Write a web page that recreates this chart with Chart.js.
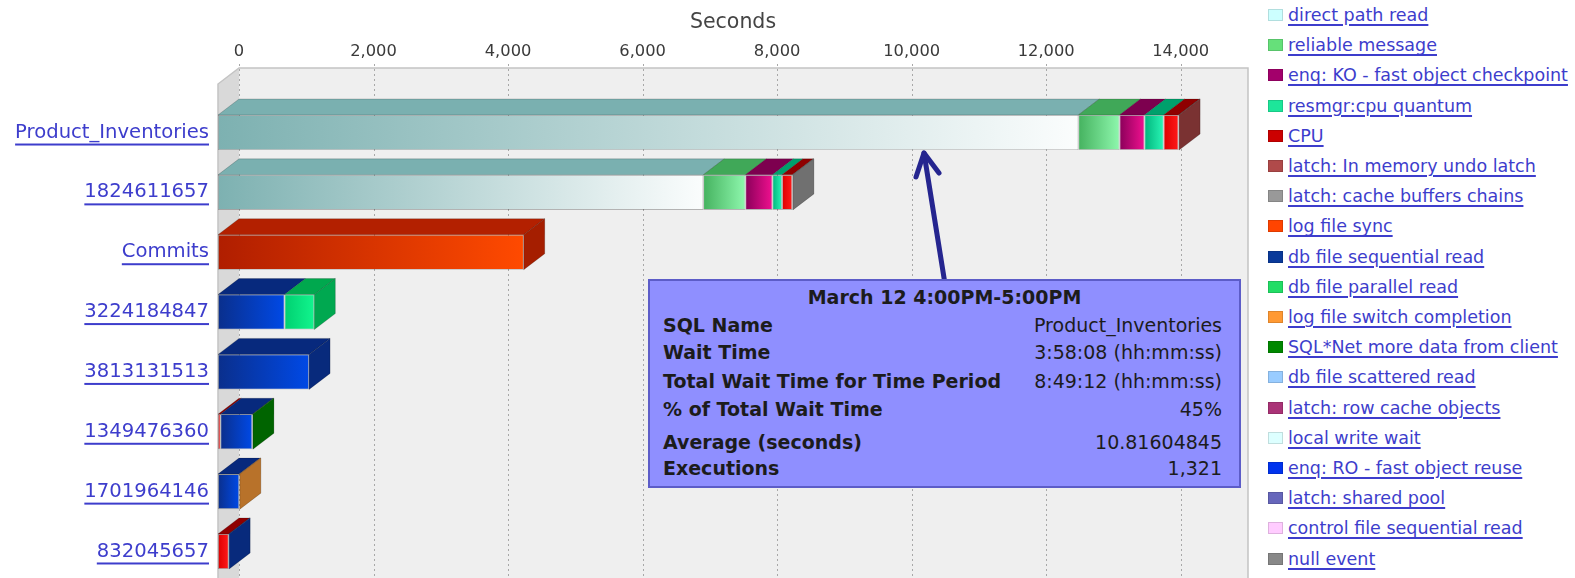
<!DOCTYPE html>
<html lang="en">
<head>
<meta charset="UTF-8">
<title>Top SQL by Wait Event</title>
<style>
    body {
        margin: 0;
        background: #fff;
        overflow: hidden;
        font-family: 'DejaVu Sans', sans-serif;
    }

    #wrap { position: relative; width: 1575px; height: 578px; }
    #chart { position: absolute; left: 0; top: 0; }

    #legend { position: absolute; left: 1268px; top: 0; }
    .item {
        position: absolute;
        left: 0;
        height: 22px;
        display: flex;
        align-items: center;
        white-space: nowrap;
        font-size: 17.5px;
    }
    .item span {
        display: inline-block;
        width: 15px;
        height: 12px;
        margin-right: 5px;
        box-shadow: inset 0 0 0 1px rgba(0, 0, 0, 0.13);
    }
    .item a {
        color: #3d3dcc;
        text-decoration: underline;
        text-decoration-thickness: 2px;
        text-underline-offset: 3px;
    }

    #tip {
        position: absolute;
        left: 648px;
        top: 279px;
        width: 589px;
        height: 205px;
        background: #8f8fff;
        border: 2px solid #5c5cc8;
        font-size: 19px;
        color: #1c1c1c;
    }
    #tip .ttl {
        position: absolute; left: 0; right: 0; top: 5px;
        height: 22px; line-height: 22px;
        text-align: center; font-weight: bold;
    }
    #tip .row {
        position: absolute; left: 13px; right: 17px;
        height: 22px; line-height: 22px;
        display: flex; justify-content: space-between;
    }
    #tip .row b { font-weight: bold; }
</style>
</head>
<body>
<div id="wrap">
    <canvas id="chart" width="1260" height="578"></canvas>
    <div id="legend"></div>
    <div id="tip"></div>
</div>

<script src="https://cdn.jsdelivr.net/npm/chart.js"></script>
<script>
    // SQL statements (one bar each)
    const sqlNames = ['Product_Inventories', '1824611657', 'Commits', '3224184847',
        '3813131513', '1349476360', '1701964146', '832045657'];

    // wait events, in legend / stacking order
    const waitEvents = ['direct path read', 'reliable message', 'enq: KO - fast object checkpoint',
        'resmgr:cpu quantum', 'CPU', 'latch: In memory undo latch', 'latch: cache buffers chains',
        'log file sync', 'db file sequential read', 'db file parallel read', 'log file switch completion',
        'SQL*Net more data from client', 'db file scattered read', 'latch: row cache objects',
        'local write wait', 'enq: RO - fast object reuse', 'latch: shared pool',
        'control file sequential read', 'null event'];

    // seconds waited per event, one value per SQL
    const directPathRead   = [12790, 7214, 0, 0, 0, 0, 0, 0];
    const reliableMessage  = [612, 626, 0, 0, 0, 0, 0, 0];
    const enqKO            = [371, 402, 0, 0, 0, 0, 0, 0];
    const resmgrCpu        = [285, 143, 0, 0, 0, 0, 0, 0];
    const cpu              = [220, 152, 0, 0, 0, 36, 0, 158];
    const latchUndo        = [10, 0, 0, 0, 0, 0, 0, 0];
    const latchCacheBuf    = [0, 10, 0, 0, 0, 0, 0, 0];
    const logFileSync      = [0, 0, 4545, 0, 0, 0, 0, 0];
    const dbSeqRead        = [0, 0, 0, 989, 1354, 473, 315, 8];
    const dbParallelRead   = [0, 0, 0, 443, 0, 0, 0, 0];
    const logSwitch        = [0, 0, 0, 0, 0, 0, 10, 0];
    const sqlNetMore       = [0, 0, 0, 0, 0, 10, 0, 0];
    const dbScatteredRead  = [0, 0, 0, 0, 0, 0, 0, 0];
    const latchRowCache    = [0, 0, 0, 0, 0, 0, 0, 0];
    const localWriteWait   = [0, 0, 0, 0, 0, 0, 0, 0];
    const enqRO            = [0, 0, 0, 0, 0, 0, 0, 0];
    const latchSharedPool  = [0, 0, 0, 0, 0, 0, 0, 0];
    const controlFileRead  = [0, 0, 0, 0, 0, 0, 0, 0];
    const nullEvent        = [0, 0, 0, 0, 0, 0, 0, 0];

    const series = [directPathRead, reliableMessage, enqKO, resmgrCpu, cpu, latchUndo, latchCacheBuf,
        logFileSync, dbSeqRead, dbParallelRead, logSwitch, sqlNetMore, dbScatteredRead, latchRowCache,
        localWriteWait, enqRO, latchSharedPool, controlFileRead, nullEvent];

    const tickValues = [0, 2000, 4000, 6000, 8000, 10000, 12000, 14000];

    // the popup note
    const tipTitle = 'March 12 4:00PM-5:00PM';
    const tipLabels = ['SQL Name', 'Wait Time', 'Total Wait Time for Time Period',
        '% of Total Wait Time', 'Average (seconds)', 'Executions'];
    const tipValues = ['Product_Inventories', '3:58:08 (hh:mm:ss)', '8:49:12 (hh:mm:ss)',
        '45%', '10.81604845', '1,321'];

    // colours: swatch, front gradient (dark -> light), top face, side face
    const styles = [
        { sw: '#ccffff', dark: '#7db1b1', light: '#fbfdfd', top: '#7ab0b0', side: '#699999' },
        { sw: '#66e07a', dark: '#45b25f', light: '#8ef7ad', top: '#40a858', side: '#3a9a50' },
        { sw: '#a3006b', dark: '#8a005a', light: '#f0108f', top: '#7d004f', side: '#6a0045' },
        { sw: '#1de69a', dark: '#00b57c', light: '#2af5b5', top: '#00a06c', side: '#009060' },
        { sw: '#cc0000', dark: '#dd0000', light: '#ff1a1a', top: '#8f0000', side: '#800000' },
        { sw: '#b04a4a', dark: '#a04040', light: '#c05050', top: '#7c3535', side: '#7a3232' },
        { sw: '#999999', dark: '#808080', light: '#9a9a9a', top: '#6e6e6e', side: '#707070' },
        { sw: '#ff4400', dark: '#b01e00', light: '#ff4a00', top: '#b32000', side: '#a51e00' },
        { sw: '#0a3a9a', dark: '#0a2f8c', light: '#0049e6', top: '#07297d', side: '#082a7c' },
        { sw: '#22dd66', dark: '#00d070', light: '#12f58e', top: '#00a84e', side: '#00a850' },
        { sw: '#ff9933', dark: '#d88030', light: '#ff9933', top: '#b8722a', side: '#b8722a' },
        { sw: '#008800', dark: '#007700', light: '#008800', top: '#006400', side: '#006400' },
        { sw: '#99ccff' }, { sw: '#aa3377' }, { sw: '#ddffff' }, { sw: '#0033ee' },
        { sw: '#6666bb' }, { sw: '#ffccff' }, { sw: '#888888' }
    ];

    const DX = 21, DY = 16;          // depth of the 3D look
    const LABEL_SIZE = 19.6;

    function frontFill(c) {
        const st = styles[c.datasetIndex];
        const chart = c.chart, x = chart.scales.x;
        if (c.type !== 'data' || !x || !chart.chartArea) return st.dark || st.sw;
        const i = c.dataIndex;
        let start = 0;
        for (let j = 0; j < c.datasetIndex; j++) start += series[j][i];
        const end = start + series[c.datasetIndex][i];
        const x0 = x.getPixelForValue(start), x1 = x.getPixelForValue(end);
        if (x1 - x0 < 2) return st.dark || st.sw;
        const g = chart.ctx.createLinearGradient(x0, 0, x1, 0);
        g.addColorStop(0, st.dark);
        g.addColorStop(1, st.light);
        return g;
    }

    function poly(ctx, pts, fill) {
        ctx.beginPath();
        ctx.moveTo(pts[0][0], pts[0][1]);
        pts.slice(1).forEach(p => ctx.lineTo(p[0], p[1]));
        ctx.closePath();
        ctx.fillStyle = fill;
        ctx.fill();
        ctx.stroke();
    }

    const box3d = {
        id: 'box3d',
        beforeDraw(chart) {
            const { ctx } = chart;
            const x = chart.scales.x;
            const left = x.left, right = x.right, top = 68, bottom = chart.height;
            ctx.save();
            ctx.fillStyle = '#efefef';
            ctx.fillRect(left, top, right - left, bottom - top);
            // left wall
            ctx.fillStyle = '#d9d9d9';
            ctx.beginPath();
            ctx.moveTo(left, top);
            ctx.lineTo(left, bottom);
            ctx.lineTo(left - DX, bottom + DY);
            ctx.lineTo(left - DX, top + DY);
            ctx.closePath();
            ctx.fill();
            ctx.strokeStyle = '#c4c4c4';
            ctx.lineWidth = 1.5;
            ctx.beginPath();
            ctx.moveTo(left - DX, bottom + DY);
            ctx.lineTo(left - DX, top + DY);
            ctx.lineTo(left, top);
            ctx.lineTo(right, top);
            ctx.lineTo(right, bottom);
            ctx.stroke();
            // dotted grid on the back wall
            ctx.setLineDash([2, 3]);
            ctx.strokeStyle = '#a8a8a8';
            ctx.lineWidth = 1;
            x.ticks.forEach(t => {
                const px = Math.round(x.getPixelForValue(t.value)) + 0.5;
                ctx.beginPath();
                ctx.moveTo(px, top - 4);
                ctx.lineTo(px, bottom);
                ctx.stroke();
            });
            ctx.setLineDash([]);
            // axis title
            ctx.fillStyle = '#444';
            ctx.font = "20.5px 'DejaVu Sans'";
            ctx.textAlign = 'center';
            ctx.textBaseline = 'middle';
            ctx.fillText('Seconds', (x.left - DX + x.right) / 2, 22.7);
            ctx.restore();
        },
        beforeDatasetsDraw(chart) {
            chart.ctx.save();
            chart.ctx.translate(-DX, DY);
        },
        afterDatasetsDraw(chart) {
            const ctx = chart.ctx;
            ctx.restore();
            ctx.save();
            ctx.strokeStyle = 'rgba(0,0,0,0.22)';
            ctx.lineWidth = 0.8;
            const last = [];
            chart.data.datasets.forEach((ds, di) => {
                const meta = chart.getDatasetMeta(di);
                meta.data.forEach((el, i) => {
                    if (!ds.data[i]) return;
                    const x0 = Math.min(el.base, el.x), x1 = Math.max(el.base, el.x);
                    const t = el.y - el.height / 2;
                    poly(ctx, [[x0 - DX, t + DY], [x1 - DX, t + DY], [x1, t], [x0, t]], styles[di].top);
                    if (!last[i] || x1 >= last[i].x1) last[i] = { x1, t, b: el.y + el.height / 2, di };
                });
            });
            last.forEach(s => {
                if (!s) return;
                poly(ctx, [[s.x1 - DX, s.t + DY], [s.x1, s.t], [s.x1, s.b], [s.x1 - DX, s.b + DY]], styles[s.di].side);
            });
            ctx.restore();
        },
        afterDraw(chart) {
            const ctx = chart.ctx;
            const y = chart.scales.y;
            ctx.save();
            // underline the SQL names like links
            ctx.font = LABEL_SIZE + "px 'DejaVu Sans'";
            ctx.fillStyle = '#3d3dcc';
            y.ticks.forEach((t, i) => {
                const w = ctx.measureText(y.getLabelForValue(t.value)).width;
                const cy = y.getPixelForTick(i) + DY;
                const r = y.right - 30;
                ctx.fillRect(r - w, cy + 11, w, 2);
            });
            // arrow from the note to the bar
            ctx.strokeStyle = '#25258f';
            ctx.lineWidth = 5;
            ctx.lineCap = 'round';
            ctx.lineJoin = 'round';
            ctx.beginPath();
            ctx.moveTo(945, 284);
            ctx.lineTo(924, 153);
            ctx.stroke();
            ctx.beginPath();
            ctx.moveTo(916, 177);
            ctx.lineTo(924, 153);
            ctx.lineTo(939, 173);
            ctx.stroke();
            ctx.restore();
        }
    };

    new Chart(document.getElementById('chart'), {
        type: 'bar',
        data: {
            labels: sqlNames,
            datasets: waitEvents.map((name, i) => ({
                label: name,
                data: series[i],
                backgroundColor: frontFill,
                borderColor: 'rgba(40,40,40,0.3)',
                borderWidth: 0.8,
                borderSkipped: false,
                barPercentage: 0.585,
                categoryPercentage: 1,
                clip: false
            }))
        },
        options: {
            indexAxis: 'y',
            responsive: false,
            animation: false,
            layout: { padding: { top: 0, right: 12, bottom: 12.6, left: 0 } },
            plugins: {
                legend: { display: false },
                tooltip: { enabled: false }
            },
            scales: {
                x: {
                    type: 'linear',
                    position: 'top',
                    stacked: true,
                    min: 0,
                    max: 15000,
                    afterBuildTicks: s => { s.ticks = tickValues.map(v => ({ value: v })); },
                    afterFit: s => {
                        s.height = 86.6;
                        s.paddingLeft = 0;
                        s.paddingRight = 0;
                    },
                    grid: { display: false, drawTicks: false },
                    border: { display: false },
                    ticks: {
                        padding: 25,
                        color: '#3a3a3a',
                        font: { family: 'DejaVu Sans', size: 16.3 },
                        callback: v => v.toLocaleString('en-US')
                    }
                },
                y: {
                    type: 'category',
                    stacked: true,
                    afterFit: s => {
                        s.width = 239;
                        s.paddingTop = 0;
                        s.paddingBottom = 0;
                    },
                    grid: { display: false, drawTicks: false },
                    border: { display: false },
                    ticks: {
                        padding: 30,
                        labelOffset: DY,
                        autoSkip: false,
                        color: '#3d3dcc',
                        font: { family: 'DejaVu Sans', size: LABEL_SIZE }
                    }
                }
            }
        },
        plugins: [box3d]
    });

    // html legend, built from the same event list
    const legend = document.getElementById('legend');
    waitEvents.forEach((name, i) => {
        const row = document.createElement('div');
        row.className = 'item';
        row.style.top = (15 + 30.2 * i - 11) + 'px';
        row.innerHTML = '<span style="background:' + styles[i].sw + '"></span><a href="#"></a>';
        row.querySelector('a').textContent = name;
        legend.appendChild(row);
    });

    // popup note
    const tip = document.getElementById('tip');
    const rowTops = [33, 60, 88.7, 117, 149.7, 176.3];
    const ttl = document.createElement('div');
    ttl.className = 'ttl';
    ttl.textContent = tipTitle;
    tip.appendChild(ttl);
    tipLabels.forEach((lab, i) => {
        const r = document.createElement('div');
        r.className = 'row';
        r.style.top = rowTops[i] + 'px';
        const b = document.createElement('b');
        b.textContent = lab;
        const v = document.createElement('span');
        v.textContent = tipValues[i];
        r.appendChild(b);
        r.appendChild(v);
        tip.appendChild(r);
    });
</script>
</body>
</html>
